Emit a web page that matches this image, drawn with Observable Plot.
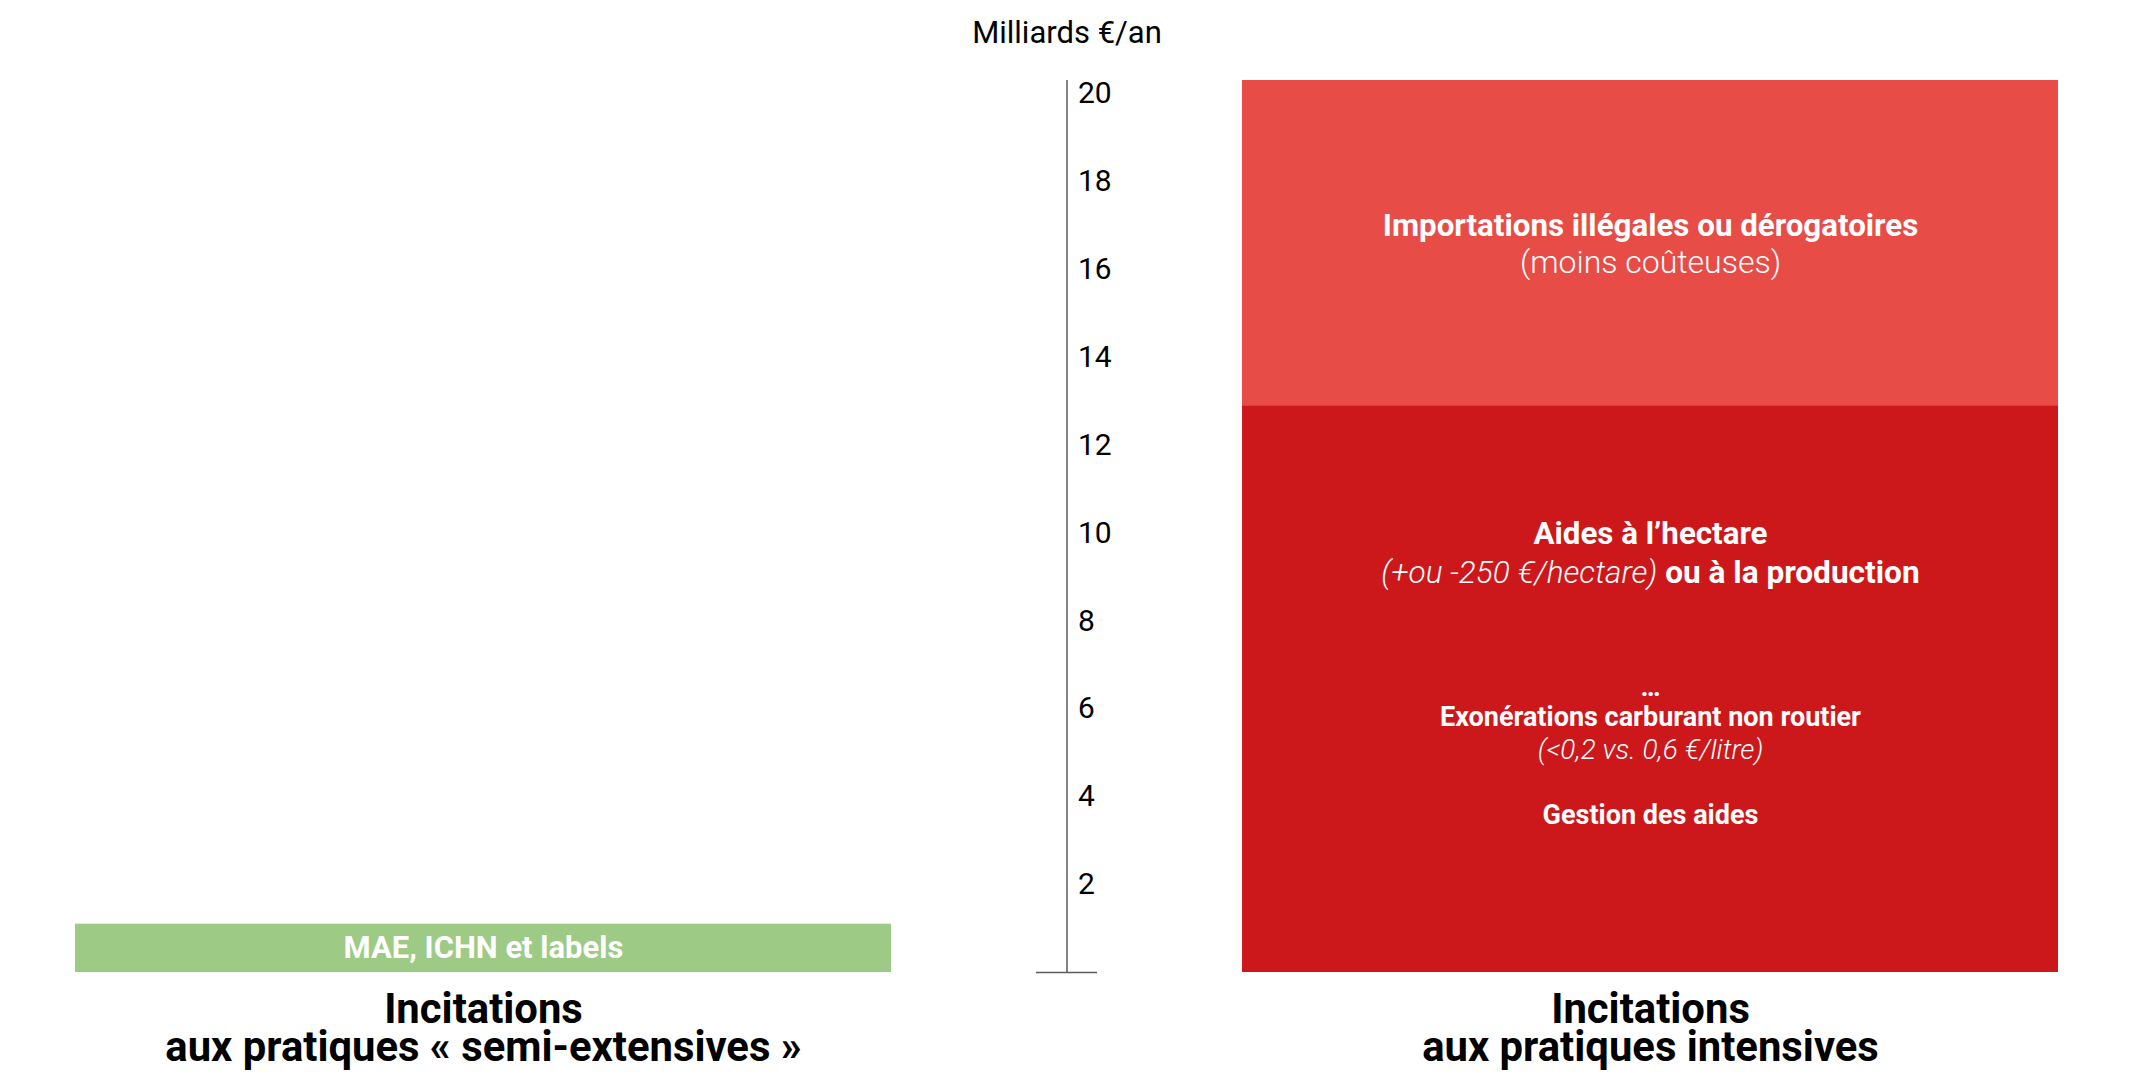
<!DOCTYPE html>
<html><head><meta charset="utf-8">
<script src="https://cdn.jsdelivr.net/npm/d3@7"></script>
<script src="https://cdn.jsdelivr.net/npm/@observablehq/plot@0.6"></script>
<style>
html,body{margin:0;padding:0;background:#fff;}
#chart{width:2133px;height:1083px;}
</style></head><body><div id="chart"></div>
<script>
// ---- data ----
const categories = ["Incitations\naux pratiques « semi-extensives »", "Incitations\naux pratiques intensives"];
const segmentNames = ["MAE, ICHN et labels", "Aides à l’hectare", "Importations illégales ou dérogatoires"];
const segmentCategory = [categories[0], categories[1], categories[1]];
const segmentValues = [1.1, 12.9, 7.4];
const yTicks = [2, 4, 6, 8, 10, 12, 14, 16, 18, 20];
const yLabel = "Milliards €/an";
const greenLines = ["MAE, ICHN et labels"];
const aidesLines = ["Aides à l’hectare", "(+ou -250 €/hectare) ou à la production", "…", "Exonérations carburant non routier", "(<0,2 vs. 0,6 €/litre)", "Gestion des aides"];
const importLines = ["Importations illégales ou dérogatoires", "(moins coûteuses)"];
const italicFragments = ["(+ou -250 €/hectare)"];

// ---- derived ----
const colors = ["#9dca85", "#cd181b", "#e84c47"];
const segments = segmentNames.map((name, i) => ({name, category: segmentCategory[i], value: segmentValues[i]}));
const totals = new Map();
const segMids = segments.map(s => {
  const base = totals.get(s.category) || 0;
  totals.set(s.category, base + s.value);
  return {category: s.category, mid: base + s.value / 2};
});
const yMax = d3.max(totals.values());

const greenStyles = [{fs: 31, fw: "bold", dy: 0}];
const aidesStyles = [
  {fs: 31.3, fw: "bold", dy: -155},
  {fs: 31.6, fw: "bold", dy: -116},
  {fs: 27, fw: "bold", dy: -2},
  {fs: 27, fw: "bold", dy: 28},
  {fs: 28, fw: "300", fst: "italic", dy: 61},
  {fs: 27, fw: "bold", dy: 126}
];
const importStyles = [
  {fs: 31.3, fw: "bold", dy: -17},
  {fs: 32, fw: "300", dy: 20}
];
function lineMarks(lines, segIndex, styles) {
  return lines.map((line, i) => Plot.text([segMids[segIndex]], {
    x: "category", y: "mid", text: () => line,
    fill: "white", fontSize: styles[i].fs, fontWeight: styles[i].fw,
    fontStyle: styles[i].fst || "normal", dy: styles[i].dy
  }));
}

const chart = Plot.plot({
  width: 2133, height: 1083,
  marginTop: 80, marginBottom: 111, marginLeft: 75, marginRight: 75,
  style: {fontFamily: "Roboto, 'Noto Sans', sans-serif", background: "white", color: "black"},
  x: {domain: categories, paddingInner: 0.3008, paddingOuter: 0, round: false, axis: null},
  y: {domain: [0, yMax], axis: null},
  color: {domain: segmentNames, range: colors},
  marks: [
    Plot.barY(segments, {x: "category", y: "value", fill: "name"}),
    Plot.ruleX([yMax], {x: null, y1: 0, y2: d => d, stroke: "#5a5a5a", strokeWidth: 1.5}),
    Plot.ruleY([0], {insetLeft: 961, insetRight: 961, stroke: "#5a5a5a", strokeWidth: 1.5}),
    Plot.text(yTicks, {y: d => d, frameAnchor: "middle", dx: 11, textAnchor: "start", fontSize: 30, fill: "black"}),
    Plot.text([yLabel], {text: d => d, frameAnchor: "top", lineAnchor: "middle", dy: -47, fontSize: 31, fill: "black"}),
    Plot.axisX({anchor: "bottom", tickSize: 0, tickPadding: 23.5, fontSize: 41.8, fontWeight: "bold", lineHeight: 0.915, label: null, fill: "black"}),
    ...lineMarks(greenLines, 0, greenStyles),
    ...lineMarks(aidesLines, 1, aidesStyles),
    ...lineMarks(importLines, 2, importStyles)
  ]
});
document.getElementById("chart").appendChild(chart);

// mixed-style line: italic light fragment followed by bold text
d3.select(chart).selectAll("text").each(function() {
  const el = this;
  if (el.children.length) return;
  const t = el.textContent;
  for (const frag of italicFragments) {
    if (t.startsWith(frag) && t.length > frag.length) {
      el.textContent = "";
      const s = d3.select(el);
      s.append("tspan").attr("font-style", "italic").attr("font-weight", "300").text(frag);
      s.append("tspan").attr("font-weight", "bold").text(t.slice(frag.length));
    }
  }
});
</script></body></html>
